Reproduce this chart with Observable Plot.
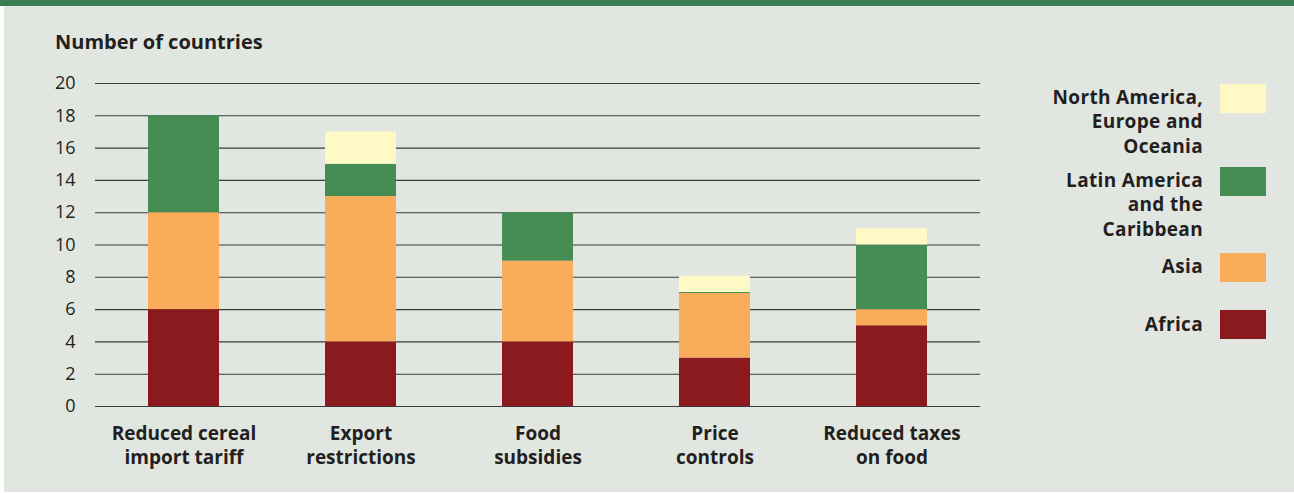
<!DOCTYPE html>
<html>
<head>
<meta charset="utf-8">
<script src="https://cdn.jsdelivr.net/npm/d3@7"></script>
<script src="https://cdn.jsdelivr.net/npm/@observablehq/plot@0.6"></script>
<style>
  html, body { margin: 0; padding: 0; background: #ffffff; }
  body { width: 1294px; height: 493px; position: relative; overflow: hidden; font-family: "Open Sans", "Noto Sans", sans-serif; color: #231f20; }
  #panel { position: absolute; left: 4px; top: 0; width: 1290px; height: 492px; background: #e2e6e1; }
  #topbar { position: absolute; left: 0; top: 0; width: 1294px; height: 6px; background: #3b7d52; }
  #title { position: absolute; left: 55px; top: 28px; font-size: 20px; font-weight: 700; line-height: 27px; }
  #chart { position: absolute; left: 0; top: 0; }
  #legend { position: absolute; left: 1000px; top: 0; }
</style>
</head>
<body>
<div id="panel"></div>
<div id="topbar"></div>
<div id="title">Number of countries</div>
<div id="chart"></div>
<div id="legend"></div>
<script>
const categories = ["Reduced cereal import tariff", "Export restrictions", "Food subsidies", "Price controls", "Reduced taxes on food"];
const categoryLabels = ["Reduced cereal\nimport tariff", "Export\nrestrictions", "Food\nsubsidies", "Price\ncontrols", "Reduced taxes\non food"];
const regions = ["Africa", "Asia", "Latin America and the Caribbean", "North America, Europe and Oceania"];
const regionLabels = ["Africa", "Asia", "Latin America\nand the\nCaribbean", "North America,\nEurope and\nOceania"];
const regionColors = ["#8b1a1e", "#f9ac59", "#458d52", "#fef9c5"];
const africa = [6, 4, 4, 3, 5];
const asia = [6, 9, 5, 4, 1];
const latinAmerica = [6, 2, 3, 0.06, 4];
const northAmerica = [0, 2, 0, 1, 1];
const yTicks = [0, 2, 4, 6, 8, 10, 12, 14, 16, 18, 20];

const series = [africa, asia, latinAmerica, northAmerica];
const rows = [];
categories.forEach((c, i) => {
  regions.forEach((r, j) => {
    rows.push({category: c, region: r, value: series[j][i]});
  });
});

const chart = Plot.plot({
  width: 1000,
  height: 493,
  marginLeft: 95,
  marginRight: 20,
  marginTop: 83,
  marginBottom: 87,
  style: {background: "transparent", fontFamily: "'Open Sans', 'Noto Sans', sans-serif", color: "#231f20"},
  x: {domain: categories, paddingInner: 0.6, paddingOuter: 0.3, label: null},
  y: {domain: [0, 20], ticks: yTicks, label: null},
  color: {domain: regions, range: regionColors},
  marks: [
    Plot.ruleY(yTicks, {stroke: "#3a3a3a", strokeWidth: 1.1}),
    Plot.barY(rows, {x: "category", y: "value", fill: "region", order: regions}),
    Plot.axisY({ticks: yTicks, tickSize: 0, tickPadding: 20, fontSize: 18, label: null, fill: "#231f20"}),
    Plot.axisX({tickSize: 0, tickPadding: 16, fontSize: 19, fontWeight: 700, lineHeight: 1.27, label: null, fill: "#231f20",
      tickFormat: d => categoryLabels[categories.indexOf(d)]})
  ]
});
document.getElementById("chart").appendChild(chart);

// Legend (SVG, one <text> per entry)
const swatchTops = [310, 253, 167, 84];
const labelBaselines = [331, 273, 187, 104];
const svg = d3.select("#legend").append("svg")
  .attr("width", 294).attr("height", 493)
  .style("font-family", "'Open Sans', 'Noto Sans', sans-serif");
regions.forEach((r, j) => {
  svg.append("rect")
    .attr("x", 220).attr("y", swatchTops[j])
    .attr("width", 46).attr("height", 29)
    .attr("fill", regionColors[j]);
  const t = svg.append("text")
    .attr("x", 203).attr("y", labelBaselines[j])
    .attr("text-anchor", "end")
    .attr("font-size", 19).attr("font-weight", 700)
    .attr("letter-spacing", 0.35)
    .attr("fill", "#231f20");
  regionLabels[j].split("\n").forEach((line, k) => {
    t.append("tspan").attr("x", 203).attr("dy", k === 0 ? 0 : 24.4).text(line);
  });
});
</script>
</body>
</html>
